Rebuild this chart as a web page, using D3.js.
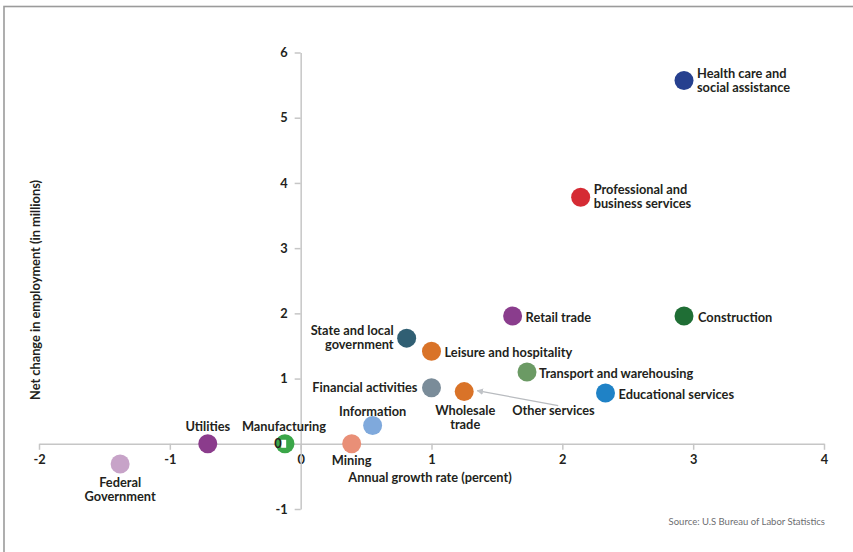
<!DOCTYPE html>
<html>
<head>
<meta charset="utf-8">
<script src="https://cdn.jsdelivr.net/npm/d3@7"></script>
<style>
  html, body { margin: 0; padding: 0; background: #fff; }
  svg { display: block; }
  text { font-family: Lato, "Open Sans", sans-serif; fill: #231f20; }
</style>
</head>
<body>
<svg id="chart" width="853" height="552"></svg>
<script>
// ---- data ----
const categories = [
  "Health care and social assistance", "Professional and business services", "Construction",
  "Retail trade", "State and local government", "Leisure and hospitality",
  "Transport and warehousing", "Financial activities", "Wholesale trade",
  "Educational services", "Information", "Mining", "Manufacturing", "Utilities",
  "Federal Government"
];
const growthRate = [2.93, 2.14, 2.93, 1.62, 0.81, 1.00, 1.73, 1.00, 1.25, 2.33, 0.55, 0.39, -0.12, -0.71, -1.38];
const netChange  = [5.57, 3.78, 1.96, 1.96, 1.62, 1.42, 1.10, 0.86, 0.80, 0.78, 0.28, 0.00, 0.00, 0.00, -0.31];
const xTicks = [-2, -1, 0, 1, 2, 3, 4];
const yTicks = [-1, 0, 1, 2, 3, 4, 5, 6];

// ---- styles ----
const colors = ["#26408f", "#d52b34", "#1f6e35", "#8a3d8d", "#305f73", "#d97328", "#6b9a64",
                "#7a8c99", "#d97328", "#1f82c6", "#7fa9dc", "#e98f77", "#3aa648", "#8b3c8c", "#c7a3c8"];
// label layout: lines, anchor, dx, dy (offset from point centre)
const labelLayout = [
  { lines: ["Health care and", "social assistance"], anchor: "start", dx: 13, dy: -7 },
  { lines: ["Professional and", "business services"], anchor: "start", dx: 13, dy: -8 },
  { lines: ["Construction"], anchor: "start", dx: 14, dy: 1 },
  { lines: ["Retail trade"], anchor: "start", dx: 13, dy: 1 },
  { lines: ["State and local", "government"], anchor: "end", dx: -13, dy: -8 },
  { lines: ["Leisure and hospitality"], anchor: "start", dx: 13, dy: 1 },
  { lines: ["Transport and warehousing"], anchor: "start", dx: 12, dy: 1 },
  { lines: ["Financial activities"], anchor: "end", dx: -14, dy: 0 },
  { lines: ["Wholesale", "trade"], anchor: "middle", dx: 1, dy: 19 },
  { lines: ["Educational services"], anchor: "start", dx: 13, dy: 1 },
  { lines: ["Information"], anchor: "middle", dx: 0, dy: -14 },
  { lines: ["Mining"], anchor: "middle", dx: 0, dy: 17 },
  { lines: ["Manufacturing"], anchor: "middle", dx: -1, dy: -17 },
  { lines: ["Utilities"], anchor: "middle", dx: 0, dy: -17 },
  { lines: ["Federal", "Government"], anchor: "middle", dx: 0, dy: 18 }
];

const FS = 12.8;
const svg = d3.select("#chart");

// frame
svg.append("rect").attr("x", 4).attr("y", 6.5).attr("width", 900).attr("height", 600)
  .attr("fill", "none").attr("stroke", "#9b9b9b").attr("stroke-width", 1.6);

const x = d3.scaleLinear().domain([-2, 4]).range([39, 824]);
const y = d3.scaleLinear().domain([-1, 6]).range([509, 52.5]);

const axisColor = "#c6c6c6";
const fmt = d => String(d);  // plain hyphen-minus like the reference

// x axis
const gx = svg.append("g").attr("transform", `translate(0,${y(0)})`)
  .call(d3.axisBottom(x).tickValues(xTicks).tickSize(6).tickSizeOuter(0).tickFormat(fmt));
gx.select(".domain").attr("stroke", axisColor).attr("stroke-width", 1.5);
gx.selectAll(".tick line").attr("stroke", axisColor).attr("stroke-width", 1.5);
gx.selectAll(".tick text").attr("font-size", FS).attr("font-weight", 700)
  .attr("fill", "#231f20").attr("font-family", "Lato, sans-serif").attr("dy", "0.85em");

// y axis
const gy = svg.append("g").attr("transform", `translate(${x(0)},0)`)
  .call(d3.axisLeft(y).tickValues(yTicks).tickSize(6).tickSizeOuter(0).tickFormat(fmt));
gy.select(".domain").attr("stroke", axisColor).attr("stroke-width", 1.5);
gy.selectAll(".tick line").attr("stroke", axisColor).attr("stroke-width", 1.5);
gy.selectAll(".tick text").attr("font-size", FS).attr("font-weight", 700)
  .attr("fill", "#231f20").attr("font-family", "Lato, sans-serif").attr("x", -13);
gy.selectAll(".tick").filter(d => d === 0).remove();

// points
const pts = svg.append("g");
pts.selectAll("circle").data(categories).join("circle")
  .attr("cx", (d, i) => x(growthRate[i]))
  .attr("cy", (d, i) => y(netChange[i]))
  .attr("r", 9.5)
  .attr("fill", (d, i) => colors[i]);

// y "0" label drawn over the circles with its white patch
const zeroG = svg.append("g");
zeroG.append("rect").attr("x", x(0) - 19.5).attr("y", y(0) - 4).attr("width", 5).attr("height", 8).attr("fill", "#fff");
zeroG.append("text").attr("x", x(0) - 19).attr("y", y(0)).attr("dy", "0.36em")
  .attr("text-anchor", "end").attr("font-size", FS).attr("font-weight", 700).text("0");

// labels
const lg = svg.append("g");
categories.forEach((c, i) => {
  const L = labelLayout[i];
  const t = lg.append("text")
    .attr("text-anchor", L.anchor)
    .attr("font-size", FS).attr("font-weight", 700);
  L.lines.forEach((line, k) => {
    t.append("tspan")
      .attr("x", x(growthRate[i]) + L.dx)
      .attr("y", y(netChange[i]) + L.dy + k * 14)
      .attr("dy", "0.36em")
      .text(line);
  });
});

// "Other services" annotation with arrow
const wi = categories.indexOf("Wholesale trade");
const defs = svg.append("defs");
defs.append("marker").attr("id", "arrow").attr("viewBox", "0 0 10 10")
  .attr("refX", 9).attr("refY", 5).attr("markerWidth", 5).attr("markerHeight", 5)
  .attr("orient", "auto")
  .append("path").attr("d", "M0,0 L10,5 L0,10 Z").attr("fill", "#c0c3c7");
svg.append("line")
  .attr("x1", x(growthRate[wi]) + 94).attr("y1", y(netChange[wi]) + 14)
  .attr("x2", x(growthRate[wi]) + 13).attr("y2", y(netChange[wi]) - 1)
  .attr("stroke", "#b8bbbf").attr("stroke-width", 1.3).attr("marker-end", "url(#arrow)");
svg.append("text").attr("x", x(growthRate[wi]) + 48).attr("y", y(netChange[wi]) + 19)
  .attr("dy", "0.36em").attr("font-size", FS).attr("font-weight", 700).text("Other services");

// axis titles
svg.append("text").attr("x", 430).attr("y", 477).attr("dy", "0.36em")
  .attr("text-anchor", "middle").attr("font-size", FS).attr("font-weight", 700)
  .text("Annual growth rate (percent)");
svg.append("text").attr("transform", "translate(35,290) rotate(-90)").attr("dy", "0.36em")
  .attr("text-anchor", "middle").attr("font-size", FS).attr("font-weight", 700)
  .text("Net change in employment (in millions)");

// source
svg.append("text").attr("x", 825).attr("y", 522).attr("dy", "0.36em")
  .attr("text-anchor", "end").attr("font-size", 9.5).style("fill", "#6d6e71")
  .text("Source: U.S Bureau of Labor Statistics");
</script>
</body>
</html>
